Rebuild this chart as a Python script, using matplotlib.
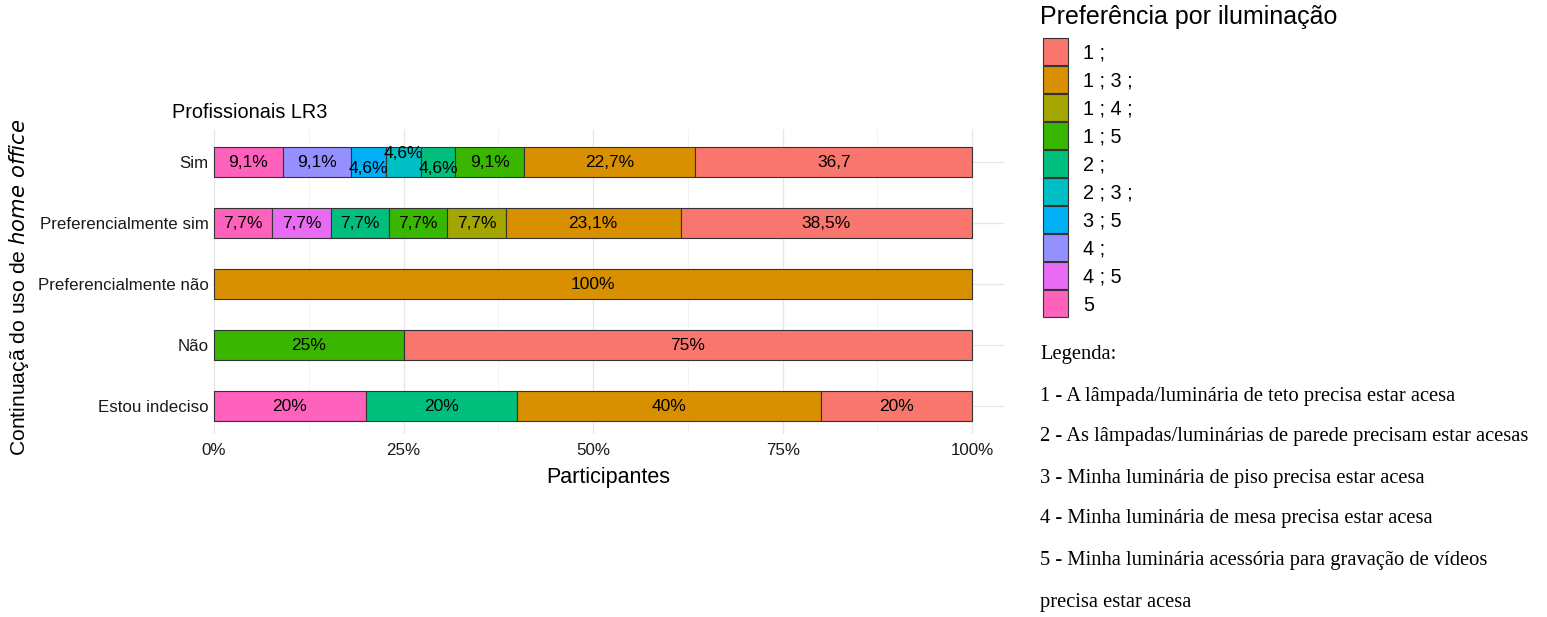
import matplotlib
matplotlib.use('Agg')
from matplotlib import pyplot as plt
from matplotlib.patches import Rectangle

plt.rcParams['font.family'] = ['Liberation Sans', 'DejaVu Sans']

# groups, bottom to top
groups = ["Estou indeciso", "Não", "Preferencialmente não", "Preferencialmente sim", "Sim"]

levels = ["1 ;", "1 ; 3 ;", "1 ; 4 ;", "1 ; 5", "2 ;", "2 ; 3 ;", "3 ; 5", "4 ;", "4 ; 5", "5"]
colors = ["#F8766D", "#D89000", "#A3A500", "#39B600", "#00BF7D",
          "#00BFC4", "#00B0F6", "#9590FF", "#E76BF3", "#FF62BC"]

# per group: (level, percent, label), left to right
sim = [("5", 9.1, "9,1%"), ("4 ;", 9.1, "9,1%"), ("3 ; 5", 4.6, "4,6%"),
       ("2 ; 3 ;", 4.6, "4,6%"), ("2 ;", 4.6, "4,6%"), ("1 ; 5", 9.1, "9,1%"),
       ("1 ; 3 ;", 22.7, "22,7%"), ("1 ;", 36.7, "36,7")]
pref_sim = [("5", 7.7, "7,7%"), ("4 ; 5", 7.7, "7,7%"), ("2 ;", 7.7, "7,7%"),
            ("1 ; 5", 7.7, "7,7%"), ("1 ; 4 ;", 7.7, "7,7%"),
            ("1 ; 3 ;", 23.1, "23,1%"), ("1 ;", 38.5, "38,5%")]
pref_nao = [("1 ; 3 ;", 100, "100%")]
nao = [("1 ; 5", 25, "25%"), ("1 ;", 75, "75%")]
indeciso = [("5", 20, "20%"), ("2 ;", 20, "20%"), ("1 ; 3 ;", 40, "40%"), ("1 ;", 20, "20%")]

data = [indeciso, nao, pref_nao, pref_sim, sim]
# small vertical nudges for crowded labels in "Sim"
nudge = {(4, 2): -0.11, (4, 3): 0.14, (4, 4): -0.11}

legend_lines = [
    "Legenda:",
    "1 - A lâmpada/luminária de teto precisa estar acesa",
    "2 - As lâmpadas/luminárias de parede precisam estar acesas",
    "3 - Minha luminária de piso precisa estar acesa",
    "4 - Minha luminária de mesa precisa estar acesa",
    "5 - Minha luminária acessória para gravação de vídeos",
    "precisa estar acesa",
]

fig = plt.figure(figsize=(15.47, 6.17), dpi=100)
ax = fig.add_axes([0.1374, 0.2974, 0.5116, 0.4943])

for i, rows in enumerate(data):
    total = sum(r[1] for r in rows)
    left = 0
    for j, (lev, val, lab) in enumerate(rows):
        w = val / total
        ax.barh(i, w, left=left, height=0.5, color=colors[levels.index(lev)],
                edgecolor='#333333', linewidth=0.8, zorder=2)
        ax.text(left + w / 2, i + nudge.get((i, j), 0), lab, ha='center', va='center',
                fontsize=12.5, zorder=3)
        left += w

ax.set_xlim(-0.002, 1.042)
ax.set_ylim(-0.45, 4.55)
ax.set_xticks([0, 0.25, 0.5, 0.75, 1])
ax.set_xticklabels(["0%", "25%", "50%", "75%", "100%"])
ax.set_xticks([0.125, 0.375, 0.625, 0.875], minor=True)
ax.set_yticks(range(len(groups)))
ax.set_yticklabels(groups)
ax.tick_params(length=0, labelsize=12.2, colors='#1a1a1a', pad=3)
ax.tick_params(axis='x', pad=7)
ax.tick_params(which='minor', length=0)
ax.grid(True, which='major', color='#e6e6e6', linewidth=0.9, zorder=0)
ax.grid(True, which='minor', axis='x', color='#f2f2f2', linewidth=0.6, zorder=0)
for s in ax.spines.values():
    s.set_visible(False)

ax.set_xlabel("Participantes", fontsize=15.5, labelpad=6)
ax.set_ylabel("Continuaçã do uso de $\\it{home\\ office}$", fontsize=15.2)
ax.yaxis.set_label_coords(-0.23, 0.48)
fig.text(172 / 1547, 1 - 113 / 617, "Profissionais LR3", fontsize=14.3, va='center', ha='left')

# legend drawn by hand
fig.text(1040 / 1547, 1 - 17 / 617, "Preferência por iluminação", fontsize=18, va='center')
for k, (lev, col) in enumerate(zip(levels, colors)):
    y0 = 38 + k * 28
    fig.patches.append(Rectangle((1043 / 1547, 1 - (y0 + 27) / 617), 25 / 1547, 27 / 617,
                                 transform=fig.transFigure, facecolor=col,
                                 edgecolor='#333333', linewidth=0.8))
    fig.text(1083 / 1547, 1 - (y0 + 15) / 617, lev, fontsize=14.2, va='center')

ys = [355, 397, 437, 478, 519, 561, 603]
for y, t in zip(ys, legend_lines):
    fig.text(1040 / 1547, 1 - y / 617, t, fontsize=14.8, va='center',
             family='Liberation Serif')

plt.savefig('out.png')
